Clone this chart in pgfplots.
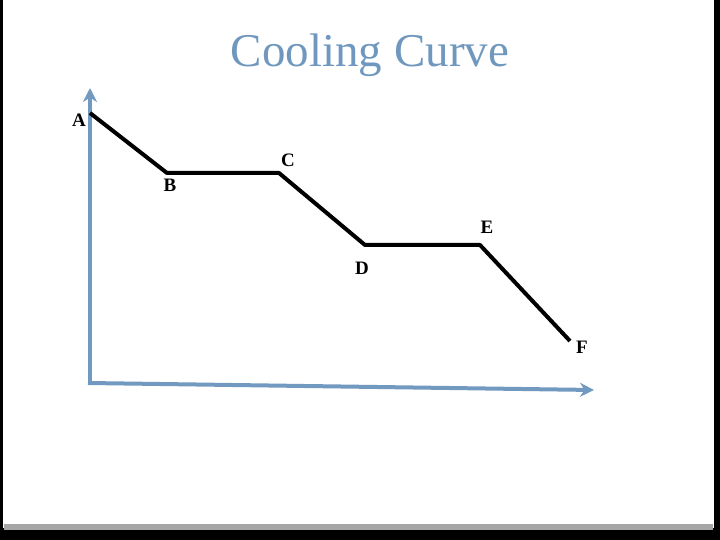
\documentclass[border=0pt]{standalone}
\usepackage{fontspec}
\setmainfont{Liberation Serif}
\usepackage{pgfplots}
\usetikzlibrary{arrows.meta}
\pgfplotsset{compat=1.18}
\definecolor{axblue}{RGB}{114,154,192}
\definecolor{titleblue}{RGB}{112,152,190}
\begin{document}
\begin{tikzpicture}
\begin{axis}[
  scale only axis, width=720bp, height=540bp,
  xmin=0, xmax=720, ymin=0, ymax=540, y dir=reverse,
  hide axis, clip=false]
% slide frame
\fill[black] (axis cs:0,0) rectangle (axis cs:720,540);
\fill[white] (axis cs:3,0) rectangle (axis cs:714,528);
\fill[gray!70] (axis cs:4,524) rectangle (axis cs:713,530);
% axes
\addplot[axblue, line width=4bp, -{Stealth[length=14bp,width=14bp]}] coordinates {(90,383) (90,88)};
\addplot[axblue, line width=4bp, -{Stealth[length=14bp,width=14bp]}] coordinates {(88,383) (594,390)};
% cooling curve
\addplot[black, line width=4bp, line join=round] coordinates {
(90,113) (167,173) (279,173) (365,245) (480,245) (570,341)};
% labels
\node[font=\fontsize{19bp}{21bp}\selectfont\bfseries] at (axis cs:79,120) {A};
\node[font=\fontsize{19bp}{21bp}\selectfont\bfseries] at (axis cs:170,185) {B};
\node[font=\fontsize{19bp}{21bp}\selectfont\bfseries] at (axis cs:288,160) {C};
\node[font=\fontsize{19bp}{21bp}\selectfont\bfseries] at (axis cs:362,268) {D};
\node[font=\fontsize{19bp}{21bp}\selectfont\bfseries] at (axis cs:487,227) {E};
\node[font=\fontsize{19bp}{21bp}\selectfont\bfseries] at (axis cs:582,347) {F};
% title
\node[font=\fontsize{47bp}{51bp}\selectfont, text=titleblue] at (axis cs:370,55) {Cooling Curve};
\end{axis}
\end{tikzpicture}
\end{document}
